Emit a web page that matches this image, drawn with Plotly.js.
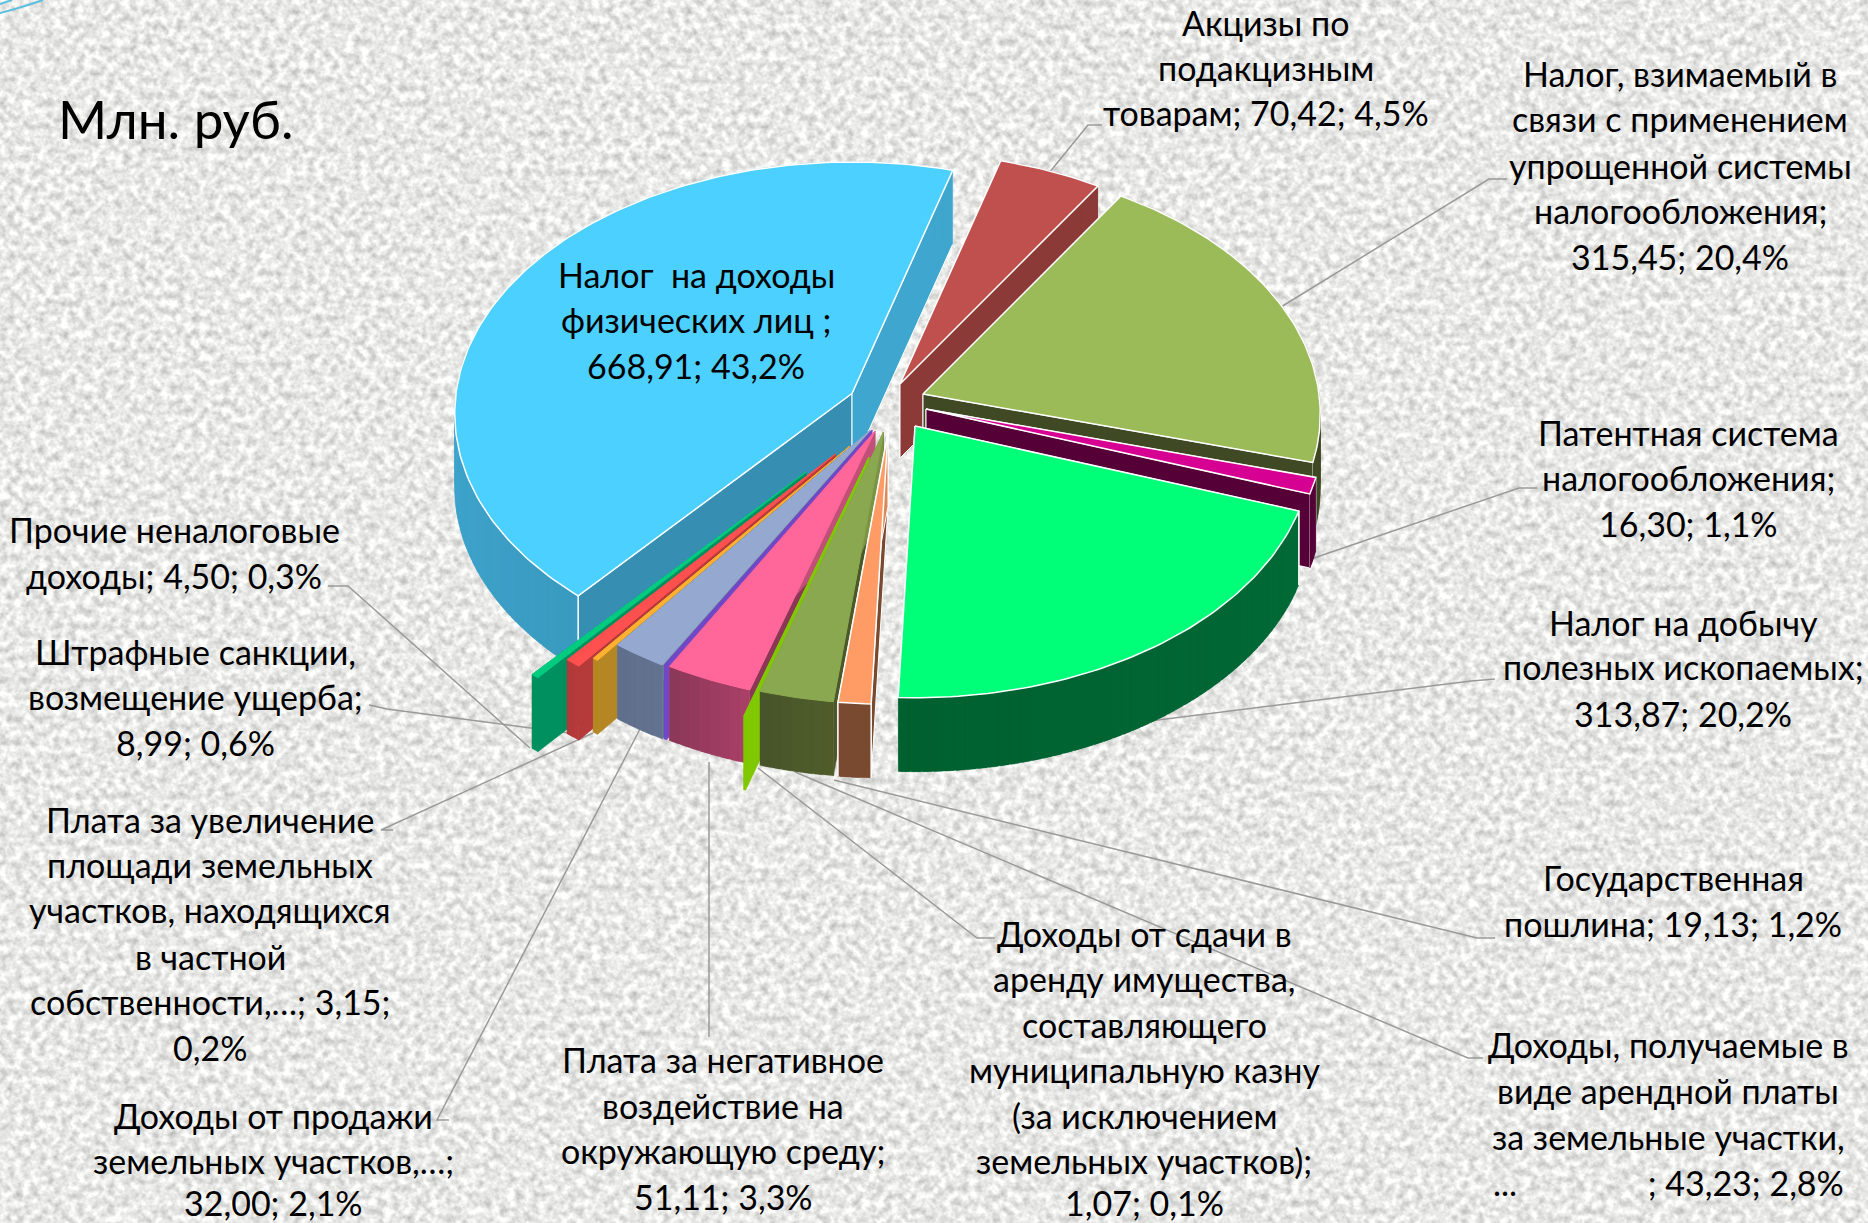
<!DOCTYPE html>
<html>
<head>
<meta charset="utf-8">
<script src="https://cdn.plot.ly/plotly-3.0.1.min.js"></script>
<style>
html,body{margin:0;padding:0;width:1868px;height:1223px;overflow:hidden;background-color:#e8e8e6;}
#noise{position:absolute;left:0;top:0;}
#chart{position:absolute;left:0;top:0;width:1868px;height:1223px;}
</style>
</head>
<body>
<svg id="noise" width="1868" height="1223" xmlns="http://www.w3.org/2000/svg">
  <filter id="n" color-interpolation-filters="sRGB" x="0" y="0" width="100%" height="100%">
    <feTurbulence type="fractalNoise" baseFrequency="0.13" numOctaves="3" seed="7"/>
    <feColorMatrix type="matrix" values="0.42 0 0 0 0.70  0.42 0 0 0 0.70  0.42 0 0 0 0.695  0 0 0 0 1"/>
  </filter>
  <rect width="1868" height="1223" filter="url(#n)"/>
</svg>
<div id="chart"></div>
<script>
// ---- data, clockwise from the big slice ----
const categories = [
  "Налог на доходы физических лиц",
  "Акцизы по подакцизным товарам",
  "Налог, взимаемый в связи с применением упрощенной системы налогообложения",
  "Патентная система налогообложения",
  "Налог на добычу полезных ископаемых",
  "Государственная пошлина",
  "Доходы, получаемые в виде арендной платы за земельные участки",
  "Доходы от сдачи в аренду имущества, составляющего муниципальную казну",
  "Плата за негативное воздействие на окружающую среду",
  "(без подписи)",
  "Доходы от продажи земельных участков",
  "Плата за увеличение площади земельных участков",
  "Штрафные санкции, возмещение ущерба",
  "Прочие неналоговые доходы"
];
const values = [668.91, 70.42, 315.45, 16.30, 313.87, 19.13, 43.23, 1.07, 51.11, 1.50, 32.00, 3.15, 8.99, 4.50];
const labelLines = [
  ["Налог  на доходы","физических лиц ;","668,91; 43,2%"],
  ["Акцизы по","подакцизным","товарам; 70,42; 4,5%"],
  ["Налог, взимаемый в","связи с применением","упрощенной системы","налогообложения;","315,45; 20,4%"],
  ["Патентная система","налогообложения;","16,30; 1,1%"],
  ["Налог на добычу","полезных ископаемых;","313,87; 20,2%"],
  ["Государственная","пошлина; 19,13; 1,2%"],
  ["Доходы, получаемые в","виде арендной платы","за земельные участки,","...\u00a0\u00a0\u00a0\u00a0\u00a0\u00a0\u00a0\u00a0\u00a0\u00a0\u00a0\u00a0\u00a0\u00a0\u00a0; 43,23; 2,8%"],
  ["Доходы от сдачи в","аренду имущества,","составляющего","муниципальную казну","(за исключением","земельных участков);","1,07; 0,1%"],
  ["Плата за негативное","воздействие на","окружающую среду;","51,11; 3,3%"],
  [],
  ["Доходы от продажи","земельных участков,…;","32,00; 2,1%"],
  ["Плата за увеличение","площади земельных","участков, находящихся","в частной","собственности,…; 3,15;","0,2%"],
  ["Штрафные санкции,","возмещение ущерба;","8,99; 0,6%"],
  ["Прочие неналоговые","доходы; 4,50; 0,3%"]
];

// ---- presentation ----
const labelX = [696,1266,1680,1688,1683,1673,1668,1144,723,0,273,210,195,174];
const labelY = [[274,319,365],[22,67,112],[73,118,165,210,256],[432,477,523],[622,666,713],[877,923],
  [1044,1090,1136,1182],[933,978,1024,1069,1115,1160,1202],[1059,1105,1150,1196],[],[1115,1160,1202],
  [819,864,909,956,1001,1047],[651,696,742],[529,575]];
// exploded apex of each slice
const apexes = [[852,393.5],[900,384],[923,394],[926,409],[915,426],[888,432.5],[883.5,432],[869,457],
  [875,431],[872,430.5],[870,430.5],[850,446],[835.5,454],[806,472]];
const topColors  = ["#4bd0ff","#c0504d","#9bbb59","#d60093","#00ff78","#ff9c66","#8aa84f","#80c800","#ff6699","#7048c8","#95a9d0","#ffb030","#ff5050","#00cc80"];
const endWall    = ["#368fb3","#8c3a38","#3f4a24","#560038","#006633","#7a4a30","#4b5828","#80c800","#8b3857","#7048c8","#62728f","#b58724","#b53a3a","#009060"];
const startWall  = ["#3ea6cf","#8c3a38","#3f4a24","#560038","#006633","#d98a5a","#7a9344","#80c800","#c05078","#7048c8","#6f7f9a","#b58724","#b53a3a","#009060"];
const outerA     = ["#3fa6ce","#8c3a38","#3f4a24","#560038","#006a36","#7a4a30","#4f5c2a","#80c800","#a83f66","#7048c8","#62728f","#b58724","#b53a3a","#009060"];
const outerB     = ["#3a9ac0","#8c3a38","#3f4a24","#560038","#006030","#7a4a30","#48552a","#80c800","#8c3858","#7048c8","#5f6f8c","#b58724","#b03a3a","#009060"];
const whiteEdge  = [1,1,1,1,1,1,0,0,0,0,0,0,0,0];
const paintOrder = [0,1,2,3,4,13,12,11,10,9,8,7,6,5];
const startDeg = 130.5, RX = 396, RY = 250, PERSP = 0.08, DEPTH = 74;

const total = values.reduce((a,b)=>a+b,0);
let run = startDeg;
const ranges = values.map(v=>{const a=run; run+=v/total*360; return [a,run];});

function proj(i,deg,drop){
  const t=deg*Math.PI/180, s=Math.sin(t), c=Math.cos(t), d=1-PERSP*s;
  return [apexes[i][0]+RX*c/d, apexes[i][1]+RY*s/d+(drop||0)];
}
function hex(c){return [1,3,5].map(k=>parseInt(c.substr(k,2),16));}
function mix(a,b,f){const A=hex(a),B=hex(b);return "rgb("+A.map((v,k)=>Math.round(v+(B[k]-v)*f)).join(",")+")";}
function poly(pts,fill,line,width){
  const x=pts.map(p=>p[0]),y=pts.map(p=>p[1]);
  x.push(x[0]);y.push(y[0]);
  return {type:"scatter",mode:"lines",x,y,fill:"toself",fillcolor:fill,
    line:{color:line||fill,width:width===undefined?0.6:width},hoverinfo:"skip",showlegend:false};
}
function stroke(pts,color,width){
  return {type:"scatter",mode:"lines",x:pts.map(p=>p[0]),y:pts.map(p=>p[1]),
    line:{color,width},hoverinfo:"skip",showlegend:false};
}
const traces=[];
paintOrder.forEach(i=>{
  const [a,b]=ranges[i], ap=apexes[i], low=[ap[0],ap[1]+DEPTH];
  const white=whiteEdge[i];
  // the two radial cut faces
  traces.push(poly([ap,proj(i,a),proj(i,a,DEPTH),low],endWall[i],white?"#ffffff":null,white?1:0.6));
  traces.push(poly([ap,proj(i,b),proj(i,b,DEPTH),low],startWall[i],white?"#ffffff":null,white?1:0.6));
  // rim: narrow overlapping faces painted in turn, so the shade runs along it without seams
  const n=Math.max(1,Math.ceil((b-a)/1.5));
  for(let k=0;k<n;k++){
    const u=a+(b-a)*k/n, v=Math.min(b,a+(b-a)*(k+1)/n+1.2);
    const pts=[];
    for(let t=0;t<=3;t++)pts.push(proj(i,u+(v-u)*t/3));
    for(let t=3;t>=0;t--)pts.push(proj(i,u+(v-u)*t/3,DEPTH));
    const col=(i===0)?mix(outerB[i],outerA[i],Math.min(1,(((u+v)/2)-130)/50)):
      mix(outerA[i],outerB[i],k/Math.max(1,n-1));
    traces.push(poly(pts,col,col,0.3));
  }
  // white corner where the rim meets the cut face
  if(i===0||i===4||i===5) traces.push(stroke([proj(i,a),proj(i,a,DEPTH)],"#ffffff",1.5));
  if(i===5) traces.push(stroke([proj(i,b),proj(i,b,DEPTH)],"#ffffff",1.5));
  // top face
  const top=[ap];
  const steps=Math.max(2,Math.ceil(b-a));
  for(let k=0;k<=steps;k++)top.push(proj(i,a+(b-a)*k/steps));
  traces.push(poly(top,topColors[i],white?"#ffffff":topColors[i],white?1.5:1));
});

// leader lines from each label to its slice
const leaders = [
  [[1102,125],[1088,125],[1049,173]],
  [[1507,179],[1489,179],[1281,307]],
  [[1537,488],[1519,488],[1308,560]],
  [[1495,679],[1471,681],[1150,721]],
  [[1495,938],[1477,938],[834,780]],
  [[1483,1058],[1468,1058],[795,772]],
  [[995,938],[977,938],[758,768]],
  [[709,1037],[709,762]],
  [[449,1120],[437,1120],[640,729]],
  [[393,830],[381,830],[593,733]],
  [[369,705],[387,709],[584,735]],
  [[328,586],[348,586],[530,748]]
];
const shapes = leaders.map(l=>({type:"path",layer:"below",xref:"x",yref:"y",
  path:"M"+l.map(p=>p.join(" ")).join(" L"),line:{color:"#9a9a9a",width:1.5}}));
shapes.push({type:"path",layer:"above",xref:"x",yref:"y",path:"M0 13 Q20 8 43 0",line:{color:"#5bc0de",width:2}});
shapes.push({type:"path",layer:"above",xref:"x",yref:"y",path:"M0 4 L12 0",line:{color:"#5bc0de",width:2}});

const FONT = "Lato, 'Open Sans', sans-serif";
const annotations=[];
labelLines.forEach((lines,i)=>lines.forEach((t,j)=>annotations.push({
  x:labelX[i],y:labelY[i][j],xref:"x",yref:"y",text:t,showarrow:false,xanchor:"center",yanchor:"middle",
  font:{family:FONT,size:34,color:"#000"}
})));
annotations.push({x:56,y:118,xref:"x",yref:"y",text:"Млн. руб.",showarrow:false,xanchor:"left",yanchor:"middle",
  font:{family:FONT,size:53,color:"#000"}});

Plotly.newPlot("chart",traces,{
  width:1868,height:1223,margin:{l:0,r:0,t:0,b:0},
  paper_bgcolor:"rgba(0,0,0,0)",plot_bgcolor:"rgba(0,0,0,0)",showlegend:false,
  xaxis:{range:[0,1868],visible:false,fixedrange:true},
  yaxis:{range:[1223,0],visible:false,fixedrange:true},
  shapes,annotations
},{displayModeBar:false,staticPlot:true});
</script>
</body>
</html>
